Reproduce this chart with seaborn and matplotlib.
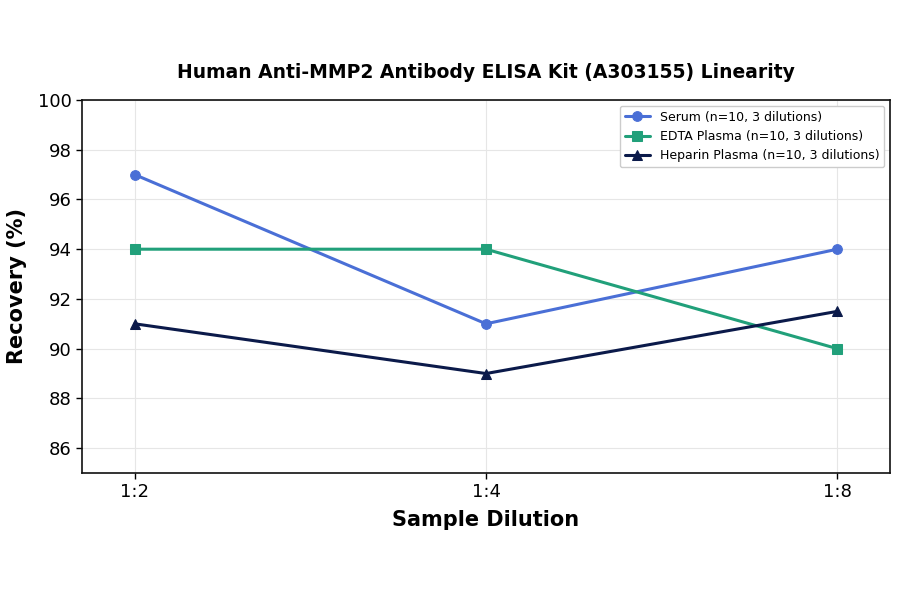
import matplotlib
matplotlib.use("Agg")
import matplotlib.pyplot as plt
import seaborn as sns
import pandas as pd

dilutions = ["1:2", "1:4", "1:8"]
serum = [97, 91, 94]
edta = [94, 94, 90]
heparin = [91, 89, 91.5]
series_names = ["Serum (n=10, 3 dilutions)", "EDTA Plasma (n=10, 3 dilutions)", "Heparin Plasma (n=10, 3 dilutions)"]
colors = ["#4a6fd6", "#21a07a", "#0b1a4a"]
markers = ["o", "s", "^"]

sns.set_style("white")
plt.rcParams['font.family'] = ['DejaVu Sans']
plt.rcParams['text.color'] = 'black'
plt.rcParams['axes.labelcolor'] = 'black'
plt.rcParams['xtick.color'] = 'black'
plt.rcParams['ytick.color'] = 'black'

fig = plt.figure(figsize=(9, 5.94), dpi=100)
ax = fig.add_axes([82/900, 1 - 473/594, (890-82)/900, (473-100)/594])

rows = []
for name, vals in zip(series_names, [serum, edta, heparin]):
    for i, (d, v) in enumerate(zip(dilutions, vals)):
        rows.append({"x": i, "Dilution": d, "Recovery": v, "Series": name})
df = pd.DataFrame(rows)

for name, c, m in zip(series_names, colors, markers):
    sub = df[df["Series"] == name]
    sns.lineplot(data=sub, x="x", y="Recovery", ax=ax, color=c, marker=m,
                 markersize=7, linewidth=2.2, label=name, markeredgecolor=c)

ax.set_xlim(-0.15, 2.15)
ax.set_ylim(85, 100)
ax.set_xticks(range(len(dilutions)))
ax.set_xticklabels(dilutions)
ax.set_yticks([86, 88, 90, 92, 94, 96, 98, 100])
ax.tick_params(axis='both', labelsize=13, length=4, width=1, direction='out', left=True, bottom=True, colors='black')
ax.grid(True, color="#e6e6e6", linewidth=0.8)
for s in ax.spines.values():
    s.set_color("#111111")
    s.set_linewidth(1.2)
ax.set_xlabel("Sample Dilution", fontsize=15, fontweight="bold", labelpad=6, color='black')
ax.set_ylabel("Recovery (%)", fontsize=15, fontweight="bold", labelpad=8, color='black')
ax.set_title("Human Anti-MMP2 Antibody ELISA Kit (A303155) Linearity", fontsize=13.5, fontweight="bold", pad=16, color='black')
leg = ax.legend(loc="upper right", fontsize=9, frameon=True, framealpha=1, edgecolor="#cccccc", borderaxespad=0.45)
for t in leg.get_texts():
    t.set_color('black')

fig.savefig("out.png", dpi=100)
